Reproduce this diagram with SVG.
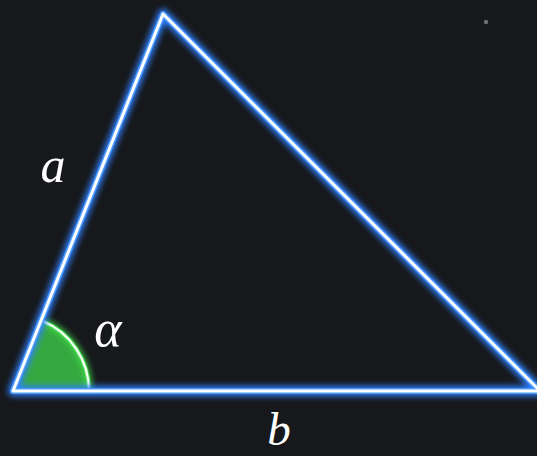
<svg xmlns="http://www.w3.org/2000/svg" width="537" height="456" viewBox="0 0 537 456">
<defs>
<filter id="glow" x="-20%" y="-20%" width="140%" height="140%">
<feGaussianBlur stdDeviation="3"/>
</filter>
<style>
.lbl{font-family:"Liberation Serif","DejaVu Serif",serif;font-style:italic;fill:#ffffff;text-anchor:middle}
.edge{fill:none;stroke-linejoin:round;stroke-linecap:round}
</style>
</defs>
<rect width="537" height="456" fill="#16181b"/>
<circle cx="486" cy="22" r="2.2" fill="#6e6e6e"/>
<g id="angle">
<path d="M13,391 L89,391 A76,76 0 0 0 42.3,320.9 Z" fill="#35a83f"/>
<path d="M89,391 A76,76 0 0 0 42.3,320.9" fill="none" stroke="#3fdc4a" stroke-width="6" filter="url(#glow)"/>
<path d="M89,391 A76,76 0 0 0 42.3,320.9" fill="none" stroke="#5ee864" stroke-width="4"/>
<path d="M89,391 A76,76 0 0 0 42.3,320.9" fill="none" stroke="#ffffff" stroke-width="2"/>
</g>
<g id="triangle">
<path class="edge" d="M13,391 L163,14 L540,391 Z" stroke="#2f7fff" stroke-width="10" filter="url(#glow)"/>
<path class="edge" d="M13,391 L163,14 L540,391 Z" stroke="#4d9bff" stroke-width="6"/>
<path class="edge" d="M13,391 L163,14 L540,391 Z" stroke="#ffffff" stroke-width="3"/>
</g>
<g id="labels">
<text class="lbl" x="53" y="182" font-size="50">a</text>
<text class="lbl" x="108" y="346" font-size="52">α</text>
<text class="lbl" x="279" y="445" font-size="47">b</text>
</g>
</svg>
